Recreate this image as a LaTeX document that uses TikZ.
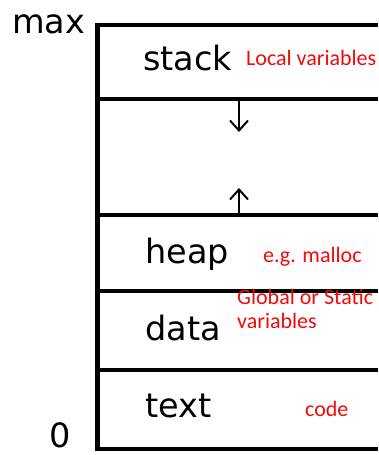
\documentclass[tikz,border=0pt]{standalone}
\usepackage{fontspec}
\setmainfont{DejaVu Sans}
\newfontfamily\notefont{Carlito}
\usepackage{tikz}
\usetikzlibrary{arrows.meta, positioning}
\usepackage{xcolor}
\definecolor{notered}{RGB}{240,10,10}

\begin{document}
\begin{tikzpicture}[x=1pt, y=-1pt,
  seg/.style={font=\fontsize{33.5}{35}\selectfont, anchor=base west, inner sep=0pt},
  note/.style={font=\notefont\fontsize{22}{24}\selectfont, text=notered, anchor=base west, inner sep=0pt, align=left},
  wall/.style={line width=4.5pt},
  growarrow/.style={line width=2pt, -{Straight Barb[length=10pt, width=18pt]}}]
  \useasboundingbox (0,0) rectangle (378,455);
  % memory layout
  \draw[wall] (378,25) -- (97.5,25) -- (97.5,449) -- (378,449);
  \foreach \y in {99,215,291,370} {
    \draw[wall] (97.5,\y) -- (378,\y);
  }
  \node[seg] (mx) at (12,33) {max};
  \node[seg] (zero) at (49,447) {0};
  \node[seg] (stk) at (143,70) {stack};
  \node[seg] (hp) at (145,263) {heap};
  \node[seg] (dt) at (145,340) {data};
  \node[seg] (tx) at (145,417) {text};
  \node[note] (lv) at (246,65) {Local variables};
  \node[note] (em) at (263,262) {e.g. malloc};
  \node[note] (gs) at (237,328) {Global or Static\\variables};
  \node[note] (cd) at (305,416) {code};
  % growth arrows
  \coordinate (stkend) at (239,99);
  \coordinate (stktip) at (239,132);
  \coordinate (hpend) at (239,215);
  \coordinate (hptip) at (239,188);
  \draw[growarrow] (stkend) -- (stktip);
  \draw[growarrow] (hpend) -- (hptip);
\end{tikzpicture}
\end{document}
